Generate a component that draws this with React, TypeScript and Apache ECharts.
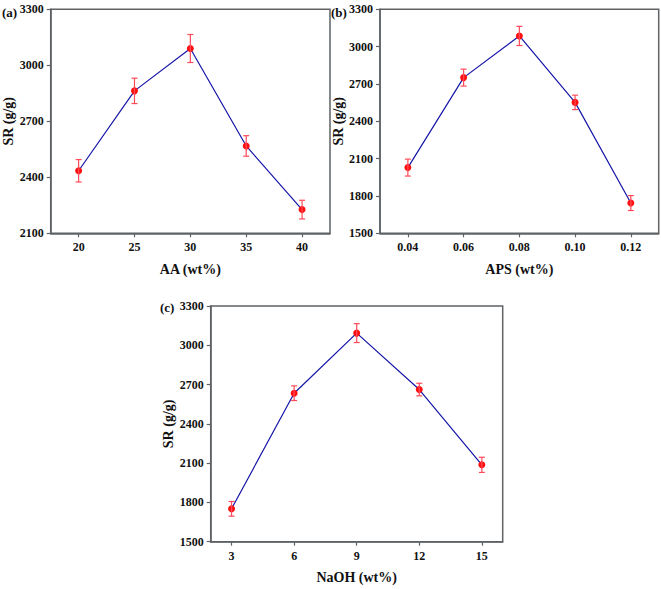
import React, { useEffect, useRef } from "react";
import * as echarts from "echarts";

const aX = [20, 25, 30, 35, 40];
const aY = [2435, 2863, 3090, 2568, 2227];
const aErr = [60, 68, 75, 55, 50];

const bX = [0.04, 0.06, 0.08, 0.1, 0.12];
const bY = [2028, 2751, 3086, 2552, 1743];
const bErr = [68, 68, 77, 58, 60];

const cX = [3, 6, 9, 12, 15];
const cY = [1751, 2634, 3093, 2662, 2087];
const cErr = [56, 56, 72, 48, 58];

const FONT = "'Liberation Serif', 'Times New Roman', serif";
const AXIS_COLOR = "#5f6366";
const LINE_COLOR = "#1515a8";
const MARK_COLOR = "#ff1010";
const ERR_COLOR = "#ff4a5a";

function errData(xs: number[], ys: number[], es: number[]) {
  return xs.map((x, i) => [x, ys[i] - es[i], ys[i] + es[i]]);
}

const renderErr = (params: any, api: any) => {
  const x = api.value(0);
  const lo = api.coord([x, api.value(1)]);
  const hi = api.coord([x, api.value(2)]);
  const w = 3;
  const style = { stroke: ERR_COLOR, lineWidth: 1.2 };
  return {
    type: "group",
    children: [
      { type: "line", shape: { x1: lo[0], y1: lo[1], x2: hi[0], y2: hi[1] }, style },
      { type: "line", shape: { x1: lo[0] - w, y1: lo[1], x2: lo[0] + w, y2: lo[1] }, style },
      { type: "line", shape: { x1: hi[0] - w, y1: hi[1], x2: hi[0] + w, y2: hi[1] }, style },
    ],
  };
};

function xAxisOf(gridIndex: number, name: string, min: number, max: number, ticks: number[], fmt?: (v: number) => string) {
  return {
    type: "value",
    gridIndex,
    min,
    max,
    name,
    nameLocation: "middle",
    nameGap: 29,
    nameTextStyle: { fontFamily: FONT, fontWeight: "bold", fontSize: 14, color: "#111" },
    axisLine: { show: true, lineStyle: { color: AXIS_COLOR, width: 1.5 } },
    axisTick: { show: true, customValues: ticks, length: 4, inside: false, lineStyle: { color: AXIS_COLOR, width: 1.2 } },
    axisLabel: {
      customValues: ticks,
      margin: 8,
      fontFamily: FONT,
      fontWeight: "bold",
      fontSize: 12,
      color: "#111",
      formatter: fmt ? fmt : (v: number) => String(v),
    },
    splitLine: { show: false },
  };
}

function yAxisOf(gridIndex: number, min: number, max: number) {
  return {
    type: "value",
    gridIndex,
    min,
    max,
    interval: 300,
    name: "SR (g/g)",
    nameLocation: "middle",
    nameGap: 35,
    nameRotate: 90,
    nameTextStyle: { fontFamily: FONT, fontWeight: "bold", fontSize: 14, color: "#111" },
    axisLine: { show: true, lineStyle: { color: AXIS_COLOR, width: 1.5 } },
    axisTick: { show: true, length: 4, inside: false, lineStyle: { color: AXIS_COLOR, width: 1.2 } },
    axisLabel: {
      margin: 7,
      fontFamily: FONT,
      fontWeight: "bold",
      fontSize: 12,
      color: "#111",
      formatter: (v: number) => String(v),
    },
    splitLine: { show: false },
  };
}

function lineSeries(idx: number, xs: number[], ys: number[]) {
  return {
    type: "line",
    xAxisIndex: idx,
    yAxisIndex: idx,
    data: xs.map((x, i) => [x, ys[i]]),
    lineStyle: { color: LINE_COLOR, width: 1.2 },
    symbol: "circle",
    symbolSize: 7,
    itemStyle: { color: MARK_COLOR },
    z: 2,
  };
}

function errSeries(idx: number, xs: number[], ys: number[], es: number[]) {
  return {
    type: "custom",
    xAxisIndex: idx,
    yAxisIndex: idx,
    data: errData(xs, ys, es),
    renderItem: renderErr,
    encode: { x: 0, y: [1, 2] },
    z: 3,
  };
}

export default function App() {
  const ref = useRef<HTMLDivElement>(null);
  useEffect(() => {
    if (!ref.current) return;
    const chart = echarts.init(ref.current, null, { renderer: "svg" });
    const gridBase = { show: true, borderColor: AXIS_COLOR, borderWidth: 1.5, backgroundColor: "transparent", containLabel: false };
    chart.setOption({
      animation: false,
      backgroundColor: "#ffffff",
      grid: [
        { ...gridBase, left: 50.7, top: 9.3, width: 279.3, height: 224 },
        { ...gridBase, left: 380, top: 9.3, width: 278.7, height: 224 },
        { ...gridBase, left: 210.7, top: 306, width: 292, height: 235.7 },
      ],
      xAxis: [
        xAxisOf(0, "AA (wt%)", 17.5, 42.5, aX),
        xAxisOf(1, "APS (wt%)", 0.03, 0.13, bX, (v: number) => v.toFixed(2)),
        xAxisOf(2, "NaOH (wt%)", 2, 16, cX),
      ],
      yAxis: [yAxisOf(0, 2100, 3300), yAxisOf(1, 1500, 3300), yAxisOf(2, 1500, 3300)],
      series: [
        lineSeries(0, aX, aY),
        errSeries(0, aX, aY, aErr),
        lineSeries(1, bX, bY),
        errSeries(1, bX, bY, bErr),
        lineSeries(2, cX, cY),
        errSeries(2, cX, cY, cErr),
      ],
      graphic: [
        { type: "text", left: 2, top: 6, style: { text: "(a)", font: `bold 13px ${FONT}`, fill: "#111" } },
        { type: "text", left: 331, top: 6, style: { text: "(b)", font: `bold 13px ${FONT}`, fill: "#111" } },
        { type: "text", left: 160, top: 301, style: { text: "(c)", font: `bold 13px ${FONT}`, fill: "#111" } },
      ],
    });
    return () => chart.dispose();
  }, []);
  return <div ref={ref} style={{ position: "absolute", left: 0, top: 0, width: 661, height: 589 }} />;
}
